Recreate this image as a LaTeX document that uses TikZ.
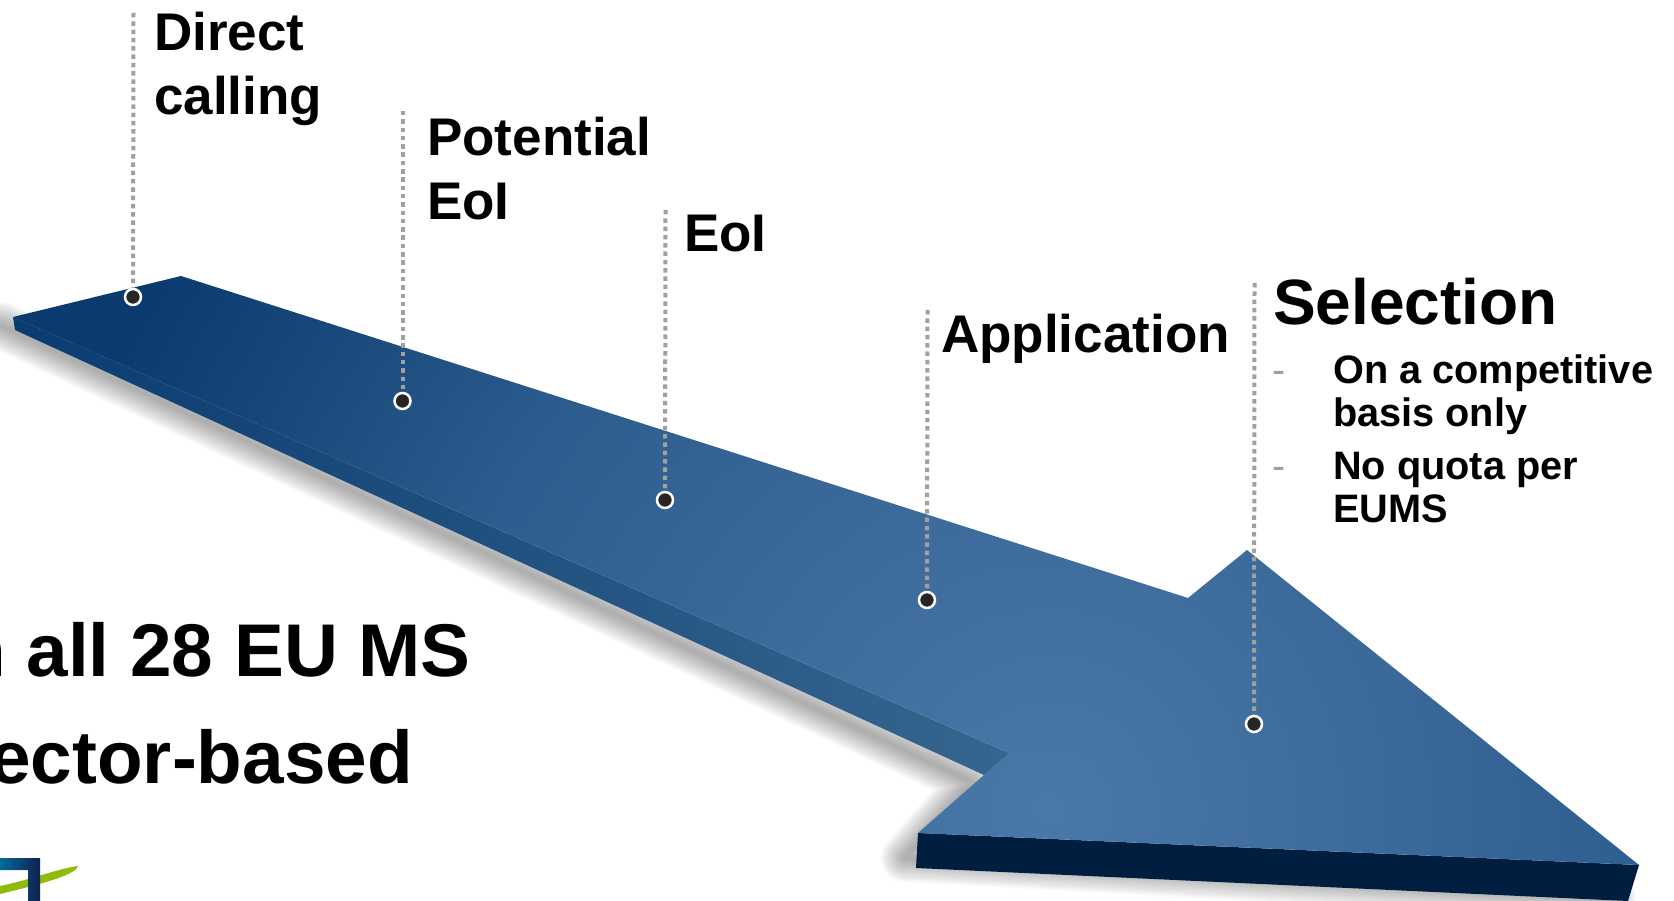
\documentclass[tikz,border=0pt]{standalone}
\usepackage{fontspec}
\setmainfont{Liberation Sans}
\usetikzlibrary{arrows.meta}

\definecolor{arrowmid}{HTML}{4A78A9}
\definecolor{arrowhalf}{HTML}{2D5D8E}
\definecolor{arrowfar}{HTML}{0A3A6E}
\definecolor{frontface}{HTML}{001F40}
\definecolor{sidedark}{HTML}{0B3C70}
\definecolor{sidelight}{HTML}{36668F}
\definecolor{leadergray}{HTML}{A0A0A0}
\definecolor{dotdark}{HTML}{262626}
\definecolor{logoteal}{HTML}{056A9A}
\definecolor{logonavy}{HTML}{10224F}
\definecolor{logogreen}{HTML}{8FBC0C}

\pgfdeclareradialshading{arrowtop}{\pgfpoint{0bp}{0bp}}{color(0bp)=(arrowmid); color(12bp)=(arrowhalf); color(20bp)=(arrowfar); color(50bp)=(arrowfar)}

\begin{document}
\begin{tikzpicture}[
    x=1pt, y=-1pt,
    stagelabel/.style={inner sep=0pt, align=left, anchor=north west,
        font=\fontsize{53}{64}\selectfont\bfseries},
    itemlabel/.style={inner sep=0pt, align=left, anchor=north west,
        font=\fontsize{39.7}{43}\selectfont\bfseries},
    itemdash/.style={inner sep=0pt, anchor=base west, leadergray,
        font=\fontsize{39.7}{43}\selectfont},
    biglabel/.style={inner sep=0pt, anchor=base east,
        font=\fontsize{74.7}{107}\selectfont\bfseries},
    leader/.style={leadergray, line width=4pt, dash pattern=on 4.5pt off 3.8pt},
    dotmark/.style={circle, draw=white, fill=dotdark, line width=2.5pt,
        minimum size=16pt, inner sep=0pt}
]
\useasboundingbox (0,0) rectangle (1674,901);
\clip (0,0) rectangle (1674,901);

% --- Soft shadow under the arrow ---
\foreach \w in {3,6,...,48}
    \draw[black, opacity=0.024, line width=\w pt, line join=round, line cap=round]
        (2,326) -- (972,782) -- (905,858) -- (1612,897);

% --- Side face of the shaft ---
\shade[left color=sidedark, right color=sidelight]
    (13,317) -- (1009,753) -- (1000,775) -- (984,775) -- (15,330) -- cycle;

% --- Front face of the head ---
\fill[frontface] (918,833) -- (1639,865) -- (1628,901) -- (916,868) -- cycle;

% --- Top surface ---
\begin{scope}
    \clip (13,317) -- (181,276) -- (1188,598) -- (1247,550) -- (1639,865)
        -- (918,833) -- (1009,753) -- cycle;
    \shade[shading=arrowtop] (1050,810) circle (1300);
\end{scope}

% --- Markers and their leaders ---
\node[dotmark] (directdot) at (133,297) {};
\node[dotmark] (potentialdot) at (402.5,401) {};
\node[dotmark] (eoidot) at (665,500) {};
\node[dotmark] (applicationdot) at (927,600) {};
\node[dotmark] (selectiondot) at (1254,724) {};

\coordinate (directtop) at (133.5,13);
\coordinate (potentialtop) at (402.5,111);
\coordinate (eoitop) at (665.5,210);
\coordinate (applicationtop) at (927.5,310);
\coordinate (selectiontop) at (1254.5,283);

\draw[leader] (directtop) -- (directdot);
\draw[leader] (potentialtop) -- (potentialdot);
\draw[leader] (eoitop) -- (eoidot);
\draw[leader] (applicationtop) -- (applicationdot);
\draw[leader] (selectiontop) -- (selectiondot);

% --- Stage labels ---
\node[stagelabel] (directlabel) at (154,12) {Direct\\calling};
\node[stagelabel] (potentiallabel) at (427,117) {Potential\\EoI};
\node[stagelabel] (eoilabel) at (684,215) {EoI};
\node[stagelabel] (applicationlabel) at (941,314) {Application};

% --- Selection and its list ---
\node[inner sep=0pt, anchor=base west, font=\fontsize{64}{70}\selectfont\bfseries]
    (selectionlabel) at (1273,325) {Selection};
\node[itemdash] (dashone) at (1272,384) {-};
\node[itemdash] (dashtwo) at (1272,479) {-};
\node[itemlabel] (itemone) at (1333,355) {On a competitive\\basis only};
\node[itemlabel] (itemtwo) at (1333,452) {No quota per\\EUMS};

% --- Cut-off heading at the left edge ---
\node[biglabel] (headone) at (471,676) {n all 28 EU MS};
\node[biglabel] (headtwo) at (413,783) {ector-based};

% --- Logo corner ---
\fill[logogreen] (0,886) .. controls (30,880) and (60,868) .. (78,866)
    .. controls (76,874) and (50,882) .. (0,894) -- cycle;
\shade[left color=logoteal, right color=logonavy]
    (0,858) -- (40,858) -- (40,901) -- (28,901) -- (28,870) -- (0,870) -- cycle;

\end{tikzpicture}
\end{document}
